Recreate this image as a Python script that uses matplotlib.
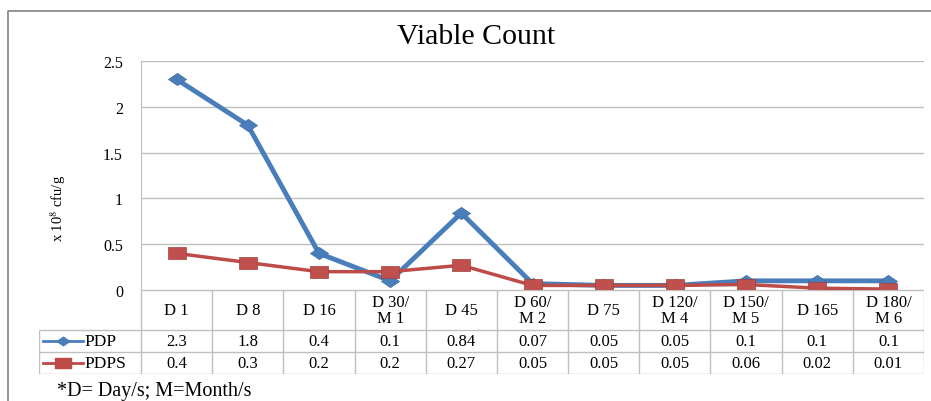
import numpy as np
import matplotlib
matplotlib.use("Agg")
import matplotlib.pyplot as plt
from matplotlib.lines import Line2D
from matplotlib.path import Path

plt.rcParams.update({'font.family': 'Liberation Serif', 'mathtext.fontset': 'stix'})

# data
days = ["D 1", "D 8", "D 16", "D 30/\nM 1", "D 45", "D 60/\nM 2", "D 75",
        "D 120/\nM 4", "D 150/\nM 5", "D 165", "D 180/\nM 6"]
pdp = [2.3, 1.8, 0.4, 0.1, 0.84, 0.07, 0.05, 0.05, 0.1, 0.1, 0.1]
pdps = [0.4, 0.3, 0.2, 0.2, 0.27, 0.05, 0.05, 0.05, 0.06, 0.02, 0.01]
pdp_txt = ["2.3", "1.8", "0.4", "0.1", "0.84", "0.07", "0.05", "0.05", "0.1", "0.1", "0.1"]
pdps_txt = ["0.4", "0.3", "0.2", "0.2", "0.27", "0.05", "0.05", "0.05", "0.06", "0.02", "0.01"]
yticks = [0, 0.5, 1, 1.5, 2, 2.5]
ytick_labels = ["0", "0.5", "1", "1.5", "2", "2.5"]

W, H = 931, 402
BLUE = "#4A7EBB"
RED = "#BE4B48"
GRID = "#BFBFBF"


def px(x0, y0, x1, y1):
    return [x0 / W, 1 - y1 / H, (x1 - x0) / W, (y1 - y0) / H]


# wide-ish markers (the original picture is stretched sideways)
diamond = Path([(-1, 0), (0, 0.68), (1, 0), (0, -0.68), (-1, 0)],
               [Path.MOVETO, Path.LINETO, Path.LINETO, Path.LINETO, Path.CLOSEPOLY])
rect = Path([(-1, -0.65), (1, -0.65), (1, 0.65), (-1, 0.65), (-1, -0.65)],
            [Path.MOVETO, Path.LINETO, Path.LINETO, Path.LINETO, Path.CLOSEPOLY])

fig = plt.figure(figsize=(W / 100, H / 100), dpi=100)

# outer frame
fig.add_artist(Line2D([8 / W, 8 / W, 1], [0, 1 - 12 / H, 1 - 12 / H],
                      transform=fig.transFigure, color="#8C8C8C", lw=1.3))

fig.text(476 / W, 1 - 37 / H, "Viable Count", ha="center", va="center", fontsize=21.5)

ax = fig.add_axes(px(141, 62, 924, 291))
x = np.arange(len(days))
ax.plot(x, pdp, color=BLUE, lw=3.5, marker=diamond, ms=13,
        mfc=BLUE, mec="#3B6BA8", mew=0.5, zorder=3)
ax.plot(x, pdps, color=RED, lw=2.5, marker=rect, ms=13,
        mfc="#C0504D", mec="#A23F3C", mew=0.5, zorder=4)
ax.set_xlim(-0.5, len(days) - 0.5)
ax.set_ylim(0, 2.5)
ax.set_yticks(yticks)
ax.set_yticklabels(ytick_labels, fontsize=11.5)
ax.set_xticks([])
ax.tick_params(axis="y", length=0, pad=13)
ax.yaxis.grid(True, color=GRID, lw=1)
ax.set_axisbelow(True)
for s in ["top", "right", "bottom"]:
    ax.spines[s].set_visible(False)
ax.spines["left"].set_color(GRID)

fig.text(58 / W, 1 - 208 / H, "x 10$^{8}$ cfu/g", rotation=90,
         ha="center", va="center", fontsize=10.5)

# data table under the chart
cw = 783 / len(days)
labw = 102 / cw
tab = fig.add_axes(px(39, 291, 924, 375))
tab.set_xlim(-0.5 - labw, len(days) - 0.5)
tab.set_ylim(84, 0)
tab.axis("off")
lc = dict(color=GRID, lw=1)
tab.hlines(0, -0.5, len(days) - 0.5, **lc)
tab.hlines([40, 61.5, 83.5], -0.5 - labw, len(days) - 0.5, **lc)
tab.vlines(np.arange(len(days) + 1) - 0.5, 0, 83.5, **lc)
tab.vlines(-0.5 - labw, 40, 83.5, **lc)

for i, d in enumerate(days):
    tab.text(i, 20, d, ha="center", va="center", fontsize=12, linespacing=1.0)
    tab.text(i, 51, pdp_txt[i], ha="center", va="center", fontsize=12)
    tab.text(i, 73, pdps_txt[i], ha="center", va="center", fontsize=12)

x0 = -0.5 - labw
for yrow, name, col, mk in [(51, "PDP", BLUE, diamond), (73, "PDPS", RED, rect)]:
    tab.plot([x0 + 4 / cw, x0 + 44 / cw], [yrow, yrow], color=col, lw=2)
    tab.plot([x0 + 24 / cw], [yrow], marker=mk, ms=9 if name == "PDP" else 12,
             color=col, mec=col)
    tab.text(x0 + 45 / cw, yrow, name, ha="left", va="center", fontsize=12.5)

fig.text(57 / W, 1 - 392 / H, "*D= Day/s; M=Month/s", ha="left", va="center", fontsize=14.5)

fig.savefig("out.png", dpi=100)
